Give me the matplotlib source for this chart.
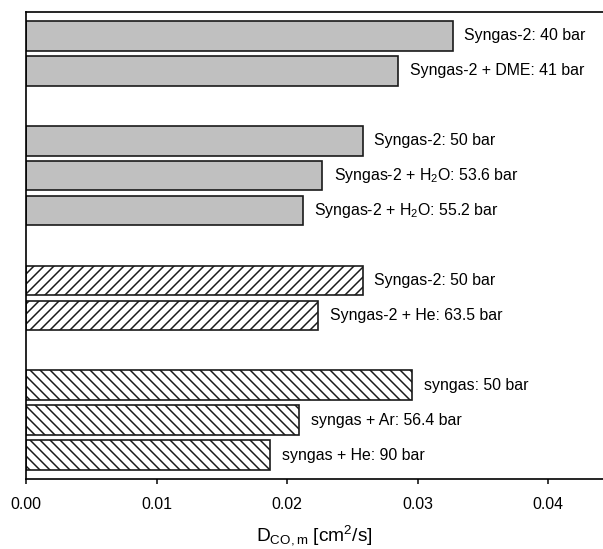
import matplotlib
matplotlib.use("Agg")
import matplotlib.pyplot as plt

# diffusion coefficient of CO in the mixture, cm^2/s, one list per group (top to bottom)
labels_g1 = ["Syngas-2: 40 bar", "Syngas-2 + DME: 41 bar"]
values_g1 = [0.0327, 0.0285]

labels_g2 = ["Syngas-2: 50 bar", "Syngas-2 + H$_2$O: 53.6 bar", "Syngas-2 + H$_2$O: 55.2 bar"]
values_g2 = [0.0258, 0.0227, 0.0212]

labels_g3 = ["Syngas-2: 50 bar", "Syngas-2 + He: 63.5 bar"]
values_g3 = [0.0258, 0.0224]

labels_g4 = ["syngas: 50 bar", "syngas + Ar: 56.4 bar", "syngas + He: 90 bar"]
values_g4 = [0.0296, 0.0209, 0.0187]

x_ticks = [0.00, 0.01, 0.02, 0.03, 0.04]

plt.rcParams["font.family"] = ["Liberation Sans", "DejaVu Sans"]
plt.rcParams["mathtext.fontset"] = "custom"
plt.rcParams["mathtext.rm"] = "Liberation Sans"
plt.rcParams["mathtext.it"] = "Liberation Sans:italic"
plt.rcParams["mathtext.default"] = "regular"
plt.rcParams["hatch.linewidth"] = 0.9

groups = [
  (labels_g1, values_g1, "#c0c0c0", None),
  (labels_g2, values_g2, "#c0c0c0", None),
  (labels_g3, values_g3, "white", "////"),
  (labels_g4, values_g4, "white", "\\\\\\\\"),
]

dpi = 120
fig = plt.figure(figsize=(603 / dpi, 549 / dpi), dpi=dpi)
ax = fig.add_axes([26.3 / 603, 1 - 479.3 / 549, 1 - 26.3 / 603, (479.3 - 11.7) / 549])

slot = 0
for labels, values, color, hatch in groups:
  for lab, val in zip(labels, values):
    ax.barh(slot, val, height=0.85, color=color, edgecolor="#1a1a1a",
            linewidth=1.0, hatch=hatch)
    ax.annotate(lab, (val, slot), xytext=(7, 0), textcoords="offset points",
                va="center", ha="left", fontsize=9.5)
    slot += 1
  slot += 1  # empty slot between groups
n_slots = slot - 1

ax.set_ylim(n_slots - 1 + 0.69, -0.69)
ax.set_xlim(0, (603 - 26.3) / 13040)
ax.set_yticks([])
ax.set_xticks(x_ticks)
ax.set_xticklabels(["%.2f" % t for t in x_ticks], fontsize=9.5)
ax.tick_params(axis="x", direction="out", length=3, width=0.9, pad=7.5)
ax.spines["right"].set_visible(False)
for s in ["left", "bottom", "top"]:
  ax.spines[s].set_linewidth(1.0)
ax.set_xlabel(r"D$_{CO,m}$ [cm$^2$/s]", fontsize=11.5, labelpad=7)

fig.savefig("out.png", dpi=dpi)
